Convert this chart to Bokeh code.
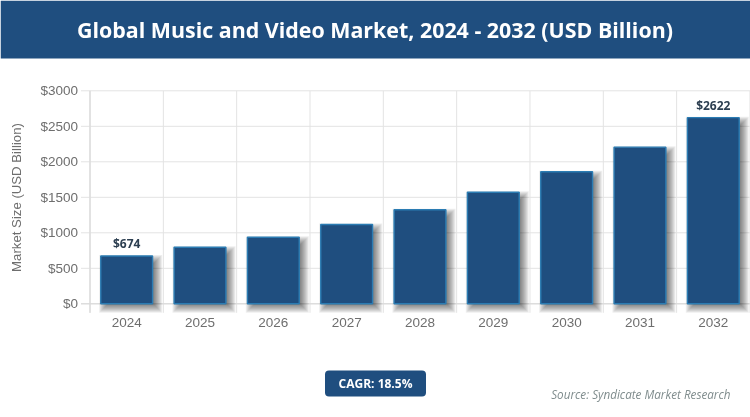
from bokeh.plotting import figure
from bokeh.embed import file_html
from bokeh.resources import INLINE
from bokeh.core.properties import value
from bokeh.models import (Range1d, FixedTicker, PrintfTickFormatter, Label, BoxAnnotation,
                          InlineStyleSheet)

years = ["2024", "2025", "2026", "2027", "2028", "2029", "2030", "2031", "2032"]
market = [674, 797, 938, 1117, 1324, 1572, 1859, 2206, 2622]
bar_labels = ["$674", "", "", "", "", "", "", "", "$2622"]
y_ticks = [0, 500, 1000, 1500, 2000, 2500, 3000]
title_text = "Global Music and Video Market, 2024 - 2032 (USD Billion)"
y_title = "Market Size (USD Billion)"
cagr_text = "CAGR: 18.5%"
source_text = "Source: Syndicate Market Research"

W, H = 750, 417
BAND = 73.33
LEFT = 89.5
Y0 = 303.3
YTOP = 90.3
UNIT = 3000 / (Y0 - YTOP)          # data units per pixel
n = len(years)
xs = list(range(n))

x_start = -0.5 - LEFT / BAND
x_range = Range1d(x_start, x_start + W / BAND)
y_range = Range1d(-(H - Y0) * UNIT, Y0 * UNIT)

p = figure(width=W, height=H, x_range=x_range, y_range=y_range, output_backend="svg",
           toolbar_location=None, min_border=0, background_fill_color="white")
p.outline_line_color = None
p.grid.visible = False
p.stylesheets = [InlineStyleSheet(css=":host{position:fixed;left:0;top:0;}")]

# Grid, extended past the axes as tick marks
GRID = "#e3e3e3"
edges = [i - 0.5 for i in range(n + 1)]
p.segment(x0=edges, x1=edges, y0=[-9 * UNIT] * len(edges), y1=[3000] * len(edges),
          line_color=GRID, line_width=1, level="underlay")
x_tick_left = -0.5 - 9 / BAND
p.segment(x0=[x_tick_left] * len(y_ticks), x1=[n - 0.5] * len(y_ticks), y0=y_ticks, y1=y_ticks,
          line_color=GRID, line_width=1, level="underlay")
p.segment(x0=[-0.5], x1=[-0.5], y0=[-9 * UNIT], y1=[3000], line_color="#dcdcdc",
          line_width=1.5, level="underlay")
p.segment(x0=[x_tick_left], x1=[n - 0.5], y0=[0], y1=[0], line_color="#d8d8d8",
          line_width=1, level="underlay")

# Axes
xa = p.xaxis[0]
xa.fixed_location = 0
xa.ticker = FixedTicker(ticks=xs)
xa.major_label_overrides = {i: y for i, y in enumerate(years)}
ya = p.yaxis[0]
ya.fixed_location = -0.5
ya.ticker = FixedTicker(ticks=y_ticks)
ya.formatter = PrintfTickFormatter(format="$%d")
for ax in (xa, ya):
    ax.axis_line_color = None
    ax.major_tick_line_color = None
    ax.minor_tick_line_color = None
    ax.major_tick_out = 0
    ax.major_tick_in = 0
    ax.minor_tick_out = 0
    ax.major_label_text_font = "Liberation Sans"
    ax.major_label_text_font_size = "13.5px"
    ax.major_label_text_color = "#6e6e6e"
xa.major_label_standoff = 14
ya.major_label_standoff = 12

# Soft bar shadows
BAR = 0.723
half = BAR / 2
for g in [5, 4, 3, 2, 1, 0, -1, -2, -3, -4, -5]:
    dx, dy = 4, 4
    p.quad(left=[x - half + (dx - g) / BAND for x in xs],
           right=[x + half + (dx + g) / BAND for x in xs],
           top=[v - (dy - g) * UNIT for v in market],
           bottom=[-(dy + g) * UNIT] * n,
           fill_color="black", fill_alpha=0.065, line_color=None)

# Bars
p.vbar(x=xs, top=market, width=BAR - 1.2 / BAND, bottom=0, fill_color="#1f4e7f",
       line_color="#2b7cb3", line_width=1.4)

# Value labels
p.text(x=xs, y=market, text=bar_labels, text_align="center", text_baseline="bottom",
       y_offset=-4, text_font=value("Open Sans"), text_font_style="bold",
       text_font_size="12px", text_color="#2c3e50")


def sy(py):
    return H - py


# Y axis title
p.add_layout(Label(x=16, y=sy(197), x_units="screen", y_units="screen", text=y_title, angle=90,
                   angle_units="deg", text_align="center", text_baseline="middle",
                   text_font="Liberation Sans", text_font_size="13.2px", text_color="#6e6e6e"))

# Header band
p.add_layout(BoxAnnotation(left=0, right=W, top=sy(0), bottom=sy(58), left_units="screen",
                           right_units="screen", top_units="screen", bottom_units="screen",
                           fill_color="#1f4e7f", fill_alpha=1, line_color=None))
p.add_layout(Label(x=W / 2 - 0.5, y=sy(28.5), x_units="screen", y_units="screen", text=title_text,
                   text_align="center", text_baseline="middle", text_font="Open Sans",
                   text_font_style="bold", text_font_size="21.4px", text_color="white"))

# CAGR badge
p.add_layout(BoxAnnotation(left=324.5, right=425.5, top=sy(370), bottom=sy(396), left_units="screen",
                           right_units="screen", top_units="screen", bottom_units="screen",
                           fill_color="#1f4e7f", fill_alpha=1, line_color=None, border_radius=4))
p.add_layout(Label(x=375, y=sy(383), x_units="screen", y_units="screen", text=cagr_text,
                   text_align="center", text_baseline="middle", text_font="Open Sans",
                   text_font_style="bold", text_font_size="12px", text_color="white"))

# Source
p.add_layout(Label(x=730, y=sy(393), x_units="screen", y_units="screen", text=source_text,
                   text_align="right", text_baseline="middle", text_font="Open Sans",
                   text_font_style="italic", text_font_size="11.7px", text_color="#7f8c8d"))

open("out.html", "w").write(file_html(p, INLINE))
